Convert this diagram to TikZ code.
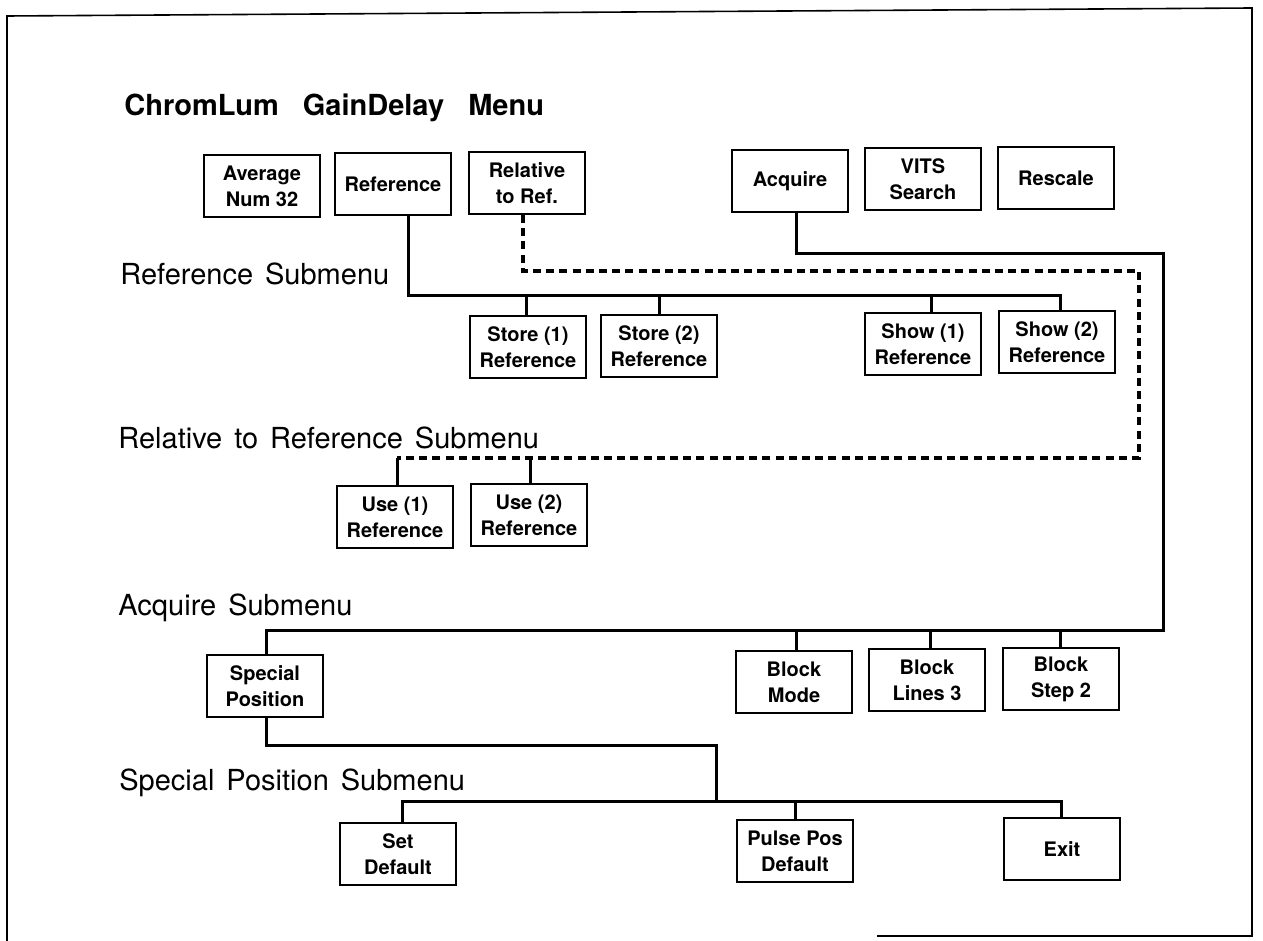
\documentclass[tikz,border=0pt]{standalone}
\usepackage{fontspec}
\setmainfont{TeX Gyre Heros}
\newcommand\mylblfont{\fontsize{14.5}{17}\selectfont\spaceskip=6pt plus 1pt minus 1pt\relax}
\newcommand\myttlfont{\fontsize{14.5}{17}\selectfont\bfseries\spaceskip=12pt plus 1pt minus 1pt\relax}
\begin{document}
\begin{tikzpicture}[x=0.5pt,y=-0.5pt,
  box/.style={draw, line width=1pt, minimum width=58pt, minimum height=31pt, inner sep=0pt, align=center, font=\fontsize{10}{13}\selectfont\bfseries},
  conn/.style={line width=1.5pt},
  dconn/.style={line width=1.6pt, dash pattern=on 4pt off 2.6pt},
  lbl/.style={anchor=base west, inner sep=0pt, font=\mylblfont},
  ttl/.style={anchor=base west, inner sep=0pt, font=\myttlfont}]
\useasboundingbox (0,0) rectangle (1263,941);
% frame
\draw[line width=0.8pt] (877,936) -- (1252,936) -- (1252,8) -- (7,16) -- (7,941);

% titles
\node[ttl] (title) at (124,116) {ChromLum GainDelay Menu};
\node[lbl] (lref) at (120,285) {Reference Submenu};
\node[lbl] (lrel) at (118,448) {Relative to Reference Submenu};
\node[lbl] (lacq) at (118,615) {Acquire Submenu};
\node[lbl] (lsp) at (119,790) {Special Position Submenu};

% main menu
\node[box] (avg) at (262,186) {Average\\Num 32};
\node[box] (ref) at (393,184) {Reference};
\node[box] (rel) at (527,183) {Relative\\to Ref.};
\node[box] (acq) at (790,181) {Acquire};
\node[box] (vits) at (923,179) {VITS\\Search};
\node[box] (resc) at (1056,178) {Rescale};

% reference submenu
\node[box] (st1) at (528,347) {Store (1)\\Reference};
\node[box] (st2) at (659,346) {Store (2)\\Reference};
\node[box] (sh1) at (923,344) {Show (1)\\Reference};
\node[box] (sh2) at (1057,342) {Show (2)\\Reference};

% relative submenu
\node[box] (use1) at (395,517) {Use (1)\\Reference};
\node[box] (use2) at (529,515) {Use (2)\\Reference};

% acquire submenu
\node[box] (spos) at (265,686) {Special\\Position};
\node[box] (bmode) at (794,682) {Block\\Mode};
\node[box] (blines) at (927,680) {Block\\Lines 3};
\node[box] (bstep) at (1061,679) {Block\\Step 2};

% special position submenu
\node[box] (setd) at (398,854) {Set\\Default};
\node[box] (pulse) at (795,851) {Pulse Pos\\Default};
\node[box] (exit) at (1062,849) {Exit};

% reference connectors
\coordinate (rA) at (408,295);
\coordinate (rB) at (526,295);
\coordinate (rC) at (659,295);
\coordinate (rD) at (931,295);
\coordinate (rE) at (1060,295);
\draw[conn] (rA |- ref.south) -- (rA) -- (rE) -- (rE |- sh2.north);
\draw[conn] (rB) -- (rB |- st1.north);
\draw[conn] (rC) -- (rC |- st2.north);
\draw[conn] (rD) -- (rD |- sh1.north);

% relative connectors (dashed)
\coordinate (dA) at (523,271);
\coordinate (dB) at (1139,271);
\coordinate (dC) at (1139,458);
\coordinate (dD) at (397,458);
\coordinate (dE) at (530,458);
\draw[dconn] (dA |- rel.south) -- (dA) -- (dB) -- (dC) -- (dD);
\draw[conn] (dD) -- (dD |- use1.north);
\draw[conn] (dE) -- (dE |- use2.north);

% acquire connectors
\coordinate (aA) at (796,254);
\coordinate (aB) at (1163,254);
\coordinate (aC) at (1163,630);
\coordinate (aD) at (266,630);
\coordinate (aE) at (796,630);
\coordinate (aF) at (930,630);
\coordinate (aG) at (1060,630);
\draw[conn] (aA |- acq.south) -- (aA) -- (aB) -- (aC) -- (aD) -- (aD |- spos.north);
\draw[conn] (aE) -- (aE |- bmode.north);
\draw[conn] (aF) -- (aF |- blines.north);
\draw[conn] (aG) -- (aG |- bstep.north);

% special position connectors
\coordinate (sA) at (266,745);
\coordinate (sB) at (716,745);
\coordinate (sC) at (716,801);
\coordinate (sL) at (402,801);
\coordinate (sM) at (795,801);
\coordinate (sR) at (1061,801);
\draw[conn] (sA |- spos.south) -- (sA) -- (sB) -- (sC);
\draw[conn] (sL |- setd.north) -- (sL) -- (sR) -- (sR |- exit.north);
\draw[conn] (sM) -- (sM |- pulse.north);
\end{tikzpicture}
\end{document}
